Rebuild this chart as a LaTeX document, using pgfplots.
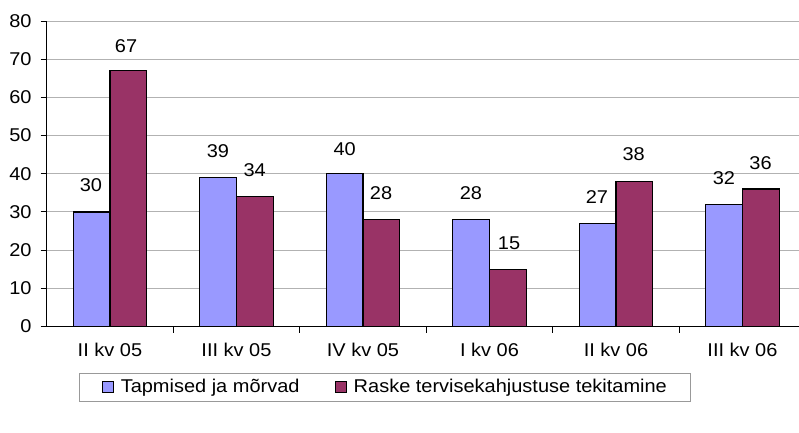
\documentclass[border=0pt]{standalone}
\usepackage{fontspec}
\setmainfont{Liberation Sans}[FakeStretch=1.08]
\usepackage{pgfplots}
\pgfplotsset{compat=1.18}
\definecolor{cblue}{RGB}{153,153,255}
\definecolor{cmaroon}{RGB}{153,51,102}
\begin{document}
\fontsize{18.5}{22}\selectfont
\begin{tikzpicture}[x=1pt,y=1pt]
\useasboundingbox (0,0) rectangle (799,432);
\begin{axis}[
  at={(46.7pt,105.5pt)}, anchor=south west,
  scale only axis, width=752.3pt, height=305.5pt,
  xmin=-0.5, xmax=5.447, ymin=0, ymax=80,
  axis x line=bottom, axis y line=left,
  axis line style={-, line width=1.2pt, black},
  ytick={0,10,...,80}, ymajorgrids,
  grid style={gray!60, line width=1pt},
  xtick={0,...,5},
  xticklabels={II kv 05, III kv 05, IV kv 05, I kv 06, II kv 06, III kv 06},
  minor xtick={0.5,1.5,2.5,3.5,4.5},
  tick align=outside, major tick length=6pt, minor tick length=6pt,
  tick style={black, line width=1pt},
  major x tick style={draw=none},
  /pgf/number format/assume math mode=true,
  y tick label style={inner sep=0pt, xshift=-9pt},
  x tick label style={inner sep=0pt, yshift=-10pt},
  legend style={at={(axis description cs:0.450,0)}, anchor=north, yshift=-46pt,
    draw=gray!80, line width=1pt, inner xsep=22pt, inner ysep=4pt,
    /tikz/every odd column/.append style={column sep=5pt},
    /tikz/every even column/.append style={column sep=33pt}},
  legend columns=2,
]
\addplot[ybar, bar width=36.7pt, bar shift=-18.35pt, fill=cblue, draw=black, line width=1.2pt,
  legend image code/.code={\draw[fill=cblue, draw=black, line width=1.2pt] (0pt,-5.5pt) rectangle (11pt,5.5pt);}]
  coordinates {(0,30) (1,39) (2,40) (3,28) (4,27) (5,32)};
\addlegendentry{Tapmised ja mõrvad}
\addplot[ybar, bar width=36.7pt, bar shift=18.35pt, fill=cmaroon, draw=black, line width=1.2pt,
  legend image code/.code={\draw[fill=cmaroon, draw=black, line width=1.2pt] (0pt,-5.5pt) rectangle (11pt,5.5pt);}]
  coordinates {(0,67) (1,34) (2,28) (3,15) (4,38) (5,36)};
\addlegendentry{Raske tervisekahjustuse tekitamine}
\addplot[forget plot, only marks, mark=none, nodes near coords, point meta=explicit symbolic,
  nodes near coords style={anchor=center, inner sep=0pt}]
  table[meta=lab] {
x y lab
-0.150 36.95 30
0.127 73.5 67
0.854 45.86 39
1.144 40.88 34
1.856 46.38 40
2.143 34.98 28
2.854 34.85 28
3.155 21.75 15
3.850 33.8 27
4.140 45.07 38
4.854 38.78 32
5.143 42.71 36
};
\end{axis}
\end{tikzpicture}
\end{document}
